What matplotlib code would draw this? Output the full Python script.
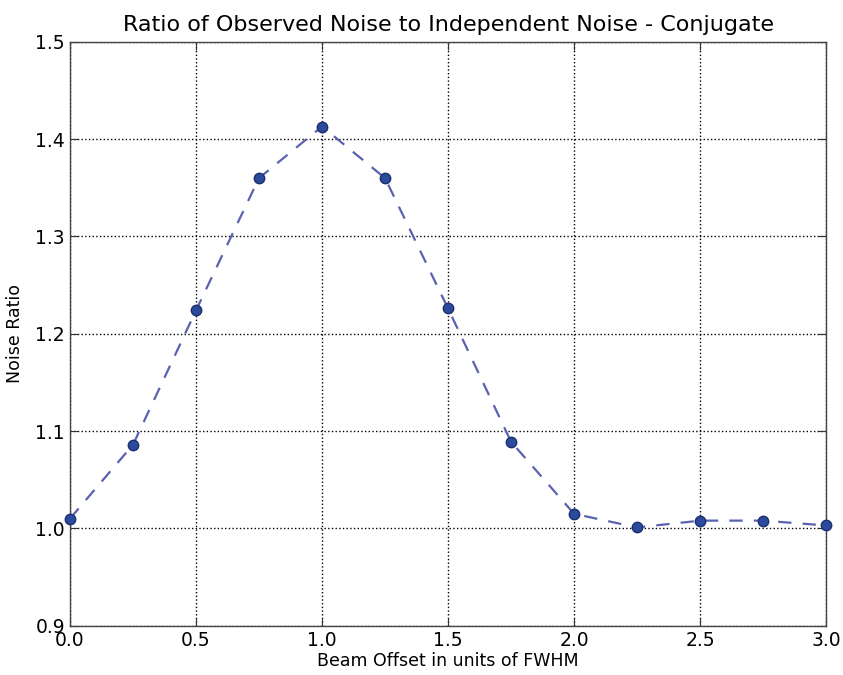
import matplotlib
matplotlib.use("Agg")
import matplotlib.pyplot as plt

# beam offset (FWHM units) and observed / independent noise ratio
offsets = [0.0, 0.25, 0.5, 0.75, 1.0, 1.25, 1.5, 1.75, 2.0, 2.25, 2.5, 2.75, 3.0]
ratios = [1.010, 1.086, 1.224, 1.360, 1.413, 1.360, 1.226, 1.089, 1.015, 1.001, 1.008, 1.008, 1.003]

xticks = [0.0, 0.5, 1.0, 1.5, 2.0, 2.5, 3.0]
yticks = [0.9, 1.0, 1.1, 1.2, 1.3, 1.4, 1.5]

fig = plt.figure(figsize=(8.43, 6.75), dpi=100)
ax = fig.add_axes([0.083, 0.073, 0.897, 0.865])

ax.plot(offsets, ratios, linestyle="--", color="#5a62b0", linewidth=1.6,
        dashes=(6, 5), zorder=3)
ax.plot(offsets, ratios, linestyle="none", marker="o", markersize=7.5,
        markerfacecolor="#2b4a9c", markeredgecolor="#1c2f6e", zorder=4,
        clip_on=False)

ax.set_xlim(0.0, 3.0)
ax.set_ylim(0.9, 1.5)
ax.set_xticks(xticks)
ax.set_yticks(yticks)
ax.set_xticklabels([f"{t:.1f}" for t in xticks], fontsize=13.5)
ax.set_yticklabels([f"{t:.1f}" for t in yticks], fontsize=13.5)
ax.tick_params(direction="in", length=6, top=True, right=True, color="#333333")

ax.grid(True, color="black", linestyle=":", linewidth=1.0)
for s in ax.spines.values():
    s.set_color("#444444")
    s.set_linewidth(1.0)

ax.set_title("Ratio of Observed Noise to Independent Noise - Conjugate",
             fontsize=16, pad=8)
ax.set_xlabel("Beam Offset in units of FWHM", fontsize=12.5, labelpad=2)
ax.set_ylabel("Noise Ratio", fontsize=12.5, labelpad=8)

fig.savefig("out.png", dpi=100)
